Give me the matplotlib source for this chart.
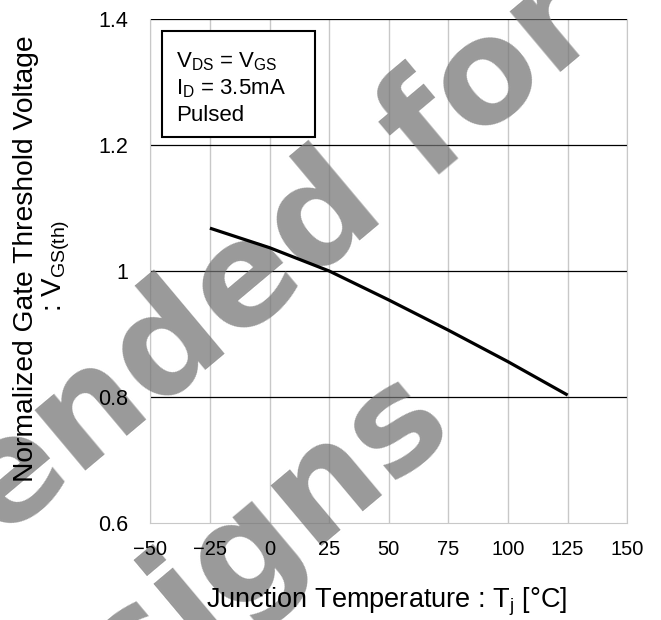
import matplotlib
matplotlib.use("Agg")
import matplotlib.pyplot as plt
from matplotlib.patches import Rectangle

# ---- data ----
tj = [-25, 0, 25, 50, 75, 100, 125]
vth_norm = [1.068, 1.037, 1.000, 0.954, 0.906, 0.856, 0.803]
x_ticks = [-50, -25, 0, 25, 50, 75, 100, 125, 150]
y_ticks = [0.6, 0.8, 1.0, 1.2, 1.4]
y_tick_labels = ["0.6", "0.8", "1", "1.2", "1.4"]
cond_lines = [r"V$_{\mathrm{DS}}$ = V$_{\mathrm{GS}}$", r"I$_{\mathrm{D}}$ = 3.5mA", "Pulsed"]
watermark = ["Not Recommended for", "New Designs"]

plt.rcParams['font.family'] = ['Liberation Sans', 'DejaVu Sans']
plt.rcParams['mathtext.fontset'] = 'custom'
plt.rcParams['mathtext.rm'] = 'Liberation Sans'
plt.rcParams['mathtext.it'] = 'Liberation Sans:italic'
plt.rcParams['mathtext.bf'] = 'Liberation Sans:bold'

W, H = 661, 620
AX_L, AX_R, AX_T, AX_B = 150.3, 627.3, 19, 523
fig = plt.figure(figsize=(W / 100, H / 100), dpi=100)
ax = fig.add_axes([AX_L / W, 1 - AX_B / H, (AX_R - AX_L) / W, (AX_B - AX_T) / H])

ax.set_xlim(-50, 150)
ax.set_ylim(0.6, 1.4)

# manual grid
for xv in x_ticks:
    ax.axvline(xv, color='#c8c8c8', lw=1.0, zorder=1)
for yv in y_ticks[1:]:
    ax.axhline(yv, color='#000000', lw=0.9, zorder=1)

for s in ['left', 'right', 'bottom']:
    ax.spines[s].set_color('#c8c8c8')
    ax.spines[s].set_zorder(1)
ax.spines['top'].set_visible(False)

ax.plot(tj, vth_norm, color='black', lw=2.3, zorder=10, solid_capstyle='butt')

ax.set_xticks(x_ticks)
ax.set_xticklabels([("\u2212" + str(-v)) if v < 0 else str(v) for v in x_ticks])
ax.set_yticks(y_ticks)
ax.set_yticklabels(y_tick_labels)
ax.tick_params(axis='both', length=0)
ax.tick_params(axis='y', pad=16, labelsize=15.5)
ax.tick_params(axis='x', pad=12.5, labelsize=14.5)

def px_to_ax(px, py):
    return (px - AX_L) / (AX_R - AX_L), (AX_B - py) / (AX_B - AX_T)

ax.set_xlabel("Junction Temperature : T$_{\\mathrm{j}}$ [°C]", fontsize=19.5)
ax.xaxis.set_label_coords(*px_to_ax(386.5, 586))
ax.set_ylabel("Normalized Gate Threshold Voltage", fontsize=20.3)
ax.yaxis.set_label_coords(*px_to_ax(39, 259))
x2, y2 = px_to_ax(62, 266)
ax.text(x2, y2, ": V$_{\\mathrm{GS(th)}}$", transform=ax.transAxes, rotation=90,
        rotation_mode='anchor', ha='center', va='baseline', fontsize=20, zorder=3,
        clip_on=False)
ax.xaxis.set_zorder(3)
ax.yaxis.set_zorder(3)

# condition box
ax.add_patch(Rectangle((161.5 / W, 1 - 137 / H), (315 - 161.5) / W, (137 - 30.5) / H,
                       transform=fig.transFigure, fill=True, facecolor='white',
                       edgecolor='black', lw=1.5, zorder=6, clip_on=False))
for i, t in enumerate(cond_lines):
    ax.text(176 / W, 1 - (67 + i * 27) / H, t, transform=fig.transFigure,
            fontsize=16, ha='left', va='baseline', zorder=7)

# watermark
wm_pos = [(-92, 620), (56, 769)]
for t, (px, py) in zip(watermark, wm_pos):
    ax.text(px / W, 1 - py / H, t, transform=fig.transFigure, rotation=40,
            rotation_mode='anchor', ha='center', va='baseline',
            fontsize=104, fontweight='bold', family='DejaVu Sans',
            color='#747474', alpha=0.73, zorder=2, clip_on=False)

fig.savefig("out.png", dpi=100)
